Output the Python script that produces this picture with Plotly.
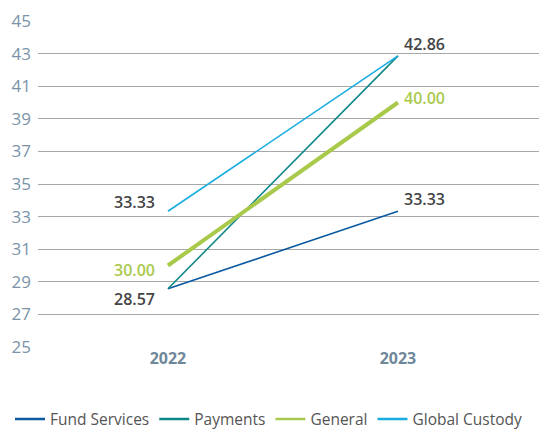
import plotly.graph_objects as go

years = ["2022", "2023"]
series_names = ["Fund Services", "Payments", "General", "Global Custody"]
fund_services = [28.57, 33.33]
payments = [28.57, 42.86]
general = [30.00, 40.00]
global_custody = [33.33, 42.86]
y_ticks = [25, 27, 29, 31, 33, 35, 37, 39, 41, 43, 45]

colors = {"Fund Services": "#0b5aa2", "Payments": "#0f8789", "General": "#a9c94b", "Global Custody": "#19ace0"}
widths = {"Fund Services": 1.6, "Payments": 1.6, "General": 4, "Global Custody": 1.6}
data = {"Fund Services": fund_services, "Payments": payments, "General": general, "Global Custody": global_custody}

FONT = "Open Sans, Noto Sans, sans-serif"
xpos = [0, 1]
fig = go.Figure()
for name in series_names:
    fig.add_trace(go.Scatter(x=xpos, y=data[name], mode="lines", name=name, showlegend=False,
                             line=dict(color=colors[name], width=widths[name])))
# legend entries (uniform thin swatches)
for name in series_names:
    fig.add_trace(go.Scatter(x=[None], y=[None], mode="lines", name=name, showlegend=True,
                             line=dict(color=colors[name], width=2.5)))

lab_font = dict(family=FONT, size=16, color="#444444", weight=600)
green_font = dict(lab_font, color="#a9c94b")
ann = []
# 2022 labels (left of points)
ann.append(dict(x=0, y=global_custody[0], text=f"{global_custody[0]:.2f}", xanchor="right", yanchor="middle", xshift=-11, yshift=9, font=lab_font))
ann.append(dict(x=0, y=general[0], text=f"{general[0]:.2f}", xanchor="right", yanchor="middle", xshift=-11, yshift=-4, font=green_font))
ann.append(dict(x=0, y=payments[0], text=f"{payments[0]:.2f}", xanchor="right", yanchor="middle", xshift=-11, yshift=-10, font=lab_font))
# 2023 labels (right of points)
ann.append(dict(x=1, y=payments[1], text=f"{payments[1]:.2f}", xanchor="left", yanchor="middle", xshift=4, yshift=12, font=lab_font))
ann.append(dict(x=1, y=general[1], text=f"{general[1]:.2f}", xanchor="left", yanchor="middle", xshift=4, yshift=5, font=green_font))
ann.append(dict(x=1, y=fund_services[1], text=f"{fund_services[1]:.2f}", xanchor="left", yanchor="middle", xshift=4, yshift=12, font=lab_font))
for a in ann:
    a["showarrow"] = False
    a["xref"] = "x"
    a["yref"] = "y"

fig.update_layout(
    width=539, height=425,
    margin=dict(l=30, r=0, t=13, b=86, autoexpand=False),
    paper_bgcolor="white", plot_bgcolor="white",
    showlegend=True,
    legend=dict(orientation="h", x=-0.055, y=-0.222, xanchor="left", yanchor="middle",
                font=dict(family=FONT, size=15.5, color="#555555"),
                itemwidth=30, tracegroupgap=0),
    annotations=ann,
    xaxis=dict(range=[-0.565, 1.648], tickmode="array", tickvals=xpos, ticktext=years,
               showgrid=False, zeroline=False, showline=False, automargin=False,
               tickfont=dict(family=FONT, size=16, color="#6f8799", weight="bold"),
               ticks="", ticklen=0),
    yaxis=dict(range=[25, 45], tickmode="array", tickvals=y_ticks, automargin=False,
               showgrid=True, gridcolor="#a8a8a8", gridwidth=1.2, zeroline=False, showline=False,
               tickfont=dict(family=FONT, size=17, color="#7a93a8"),
               ticks="", ticklabelstandoff=6),
)
fig.write_html("out.html")
